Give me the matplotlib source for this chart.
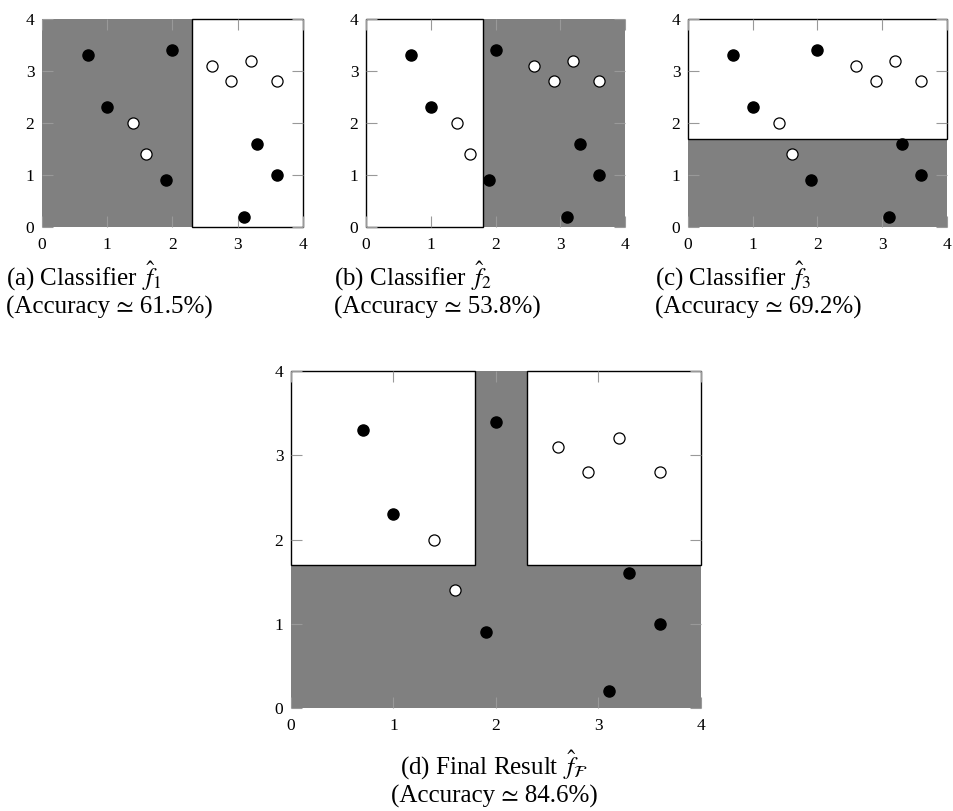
import matplotlib
matplotlib.use('Agg')
import matplotlib.pyplot as plt
from matplotlib.patches import Rectangle

plt.rcParams['font.family'] = ['Liberation Serif', 'STIXGeneral', 'DejaVu Serif']
plt.rcParams['mathtext.fontset'] = 'stix'

# data points
filled_x = [0.7, 1.0, 2.0, 1.9, 3.3, 3.6, 3.1]
filled_y = [3.3, 2.3, 3.4, 0.9, 1.6, 1.0, 0.2]
open_x = [1.4, 1.6, 2.6, 2.9, 3.2, 3.6]
open_y = [2.0, 1.4, 3.1, 2.8, 3.2, 2.8]

# white regions (x0, x1, y0, y1) per classifier, rest is gray
white_a = [(2.3, 4.0, 0.0, 4.0)]
white_b = [(0.0, 1.8, 0.0, 4.0)]
white_c = [(0.0, 4.0, 1.7, 4.0)]
white_d = [(0.0, 1.8, 1.7, 4.0), (2.3, 4.0, 1.7, 4.0)]

captions = [
    '(a) Classifier $\\,\\hat{f}_1$\n(Accuracy \u2243 61.5%)',
    '(b) Classifier $\\,\\hat{f}_2$\n(Accuracy \u2243 53.8%)',
    '(c) Classifier $\\,\\hat{f}_3$\n(Accuracy \u2243 69.2%)',
    '(d) Final Result $\\,\\hat{f}_{\\mathcal{F}}$\n(Accuracy \u2243 84.6%)',
]

W, H = 954, 811


def px_axes(fig, left, top, right, bottom):
    return fig.add_axes([left / W, 1 - bottom / H, (right - left) / W, (bottom - top) / H])


def draw_panel(ax, whites):
    ax.set_xlim(0, 4)
    ax.set_ylim(0, 4)
    ax.add_patch(Rectangle((0, 0), 4, 4, facecolor='#808080', edgecolor='none', zorder=0.5))
    for x0, x1, y0, y1 in whites:
        ax.add_patch(Rectangle((x0, y0), x1 - x0, y1 - y0, facecolor='white',
                               edgecolor='black', linewidth=1.0, zorder=0.6, clip_on=False))
    ax.plot(filled_x, filled_y, 'o', color='black', markersize=8, zorder=3, clip_on=False)
    ax.plot(open_x, open_y, 'o', markerfacecolor='white', markeredgecolor='black',
            markeredgewidth=0.9, markersize=8, zorder=3, clip_on=False)
    for s in ax.spines.values():
        s.set_visible(False)
    ax.set_xticks([0, 1, 2, 3, 4])
    ax.set_yticks([0, 1, 2, 3, 4])
    ax.tick_params(direction='in', top=True, right=True, length=8, width=0.8,
                   color='#999999', labelsize=12.5)
    ax.tick_params(axis='x', pad=7)
    ax.tick_params(axis='y', pad=5.5)


fig = plt.figure(figsize=(W / 100, H / 100), dpi=100)

ax_a = px_axes(fig, 42, 19, 303, 227)
ax_b = px_axes(fig, 366, 19, 625, 227)
ax_c = px_axes(fig, 688, 19, 947, 227)
ax_d = px_axes(fig, 291, 371, 701, 708)

draw_panel(ax_a, white_a)
draw_panel(ax_b, white_b)
draw_panel(ax_c, white_c)
draw_panel(ax_d, white_d)

fig.text(6 / W, 1 - 289 / H, captions[0], ha='left', va='center', fontsize=18, linespacing=1.15)
fig.text(334 / W, 1 - 289 / H, captions[1], ha='left', va='center', fontsize=18, linespacing=1.15)
fig.text(655 / W, 1 - 289 / H, captions[2], ha='left', va='center', fontsize=18, linespacing=1.15)
fig.text(494 / W, 1 - 778 / H, captions[3], ha='center', va='center', fontsize=18,
         linespacing=1.15, multialignment='center')

fig.savefig('out.png', dpi=100)
